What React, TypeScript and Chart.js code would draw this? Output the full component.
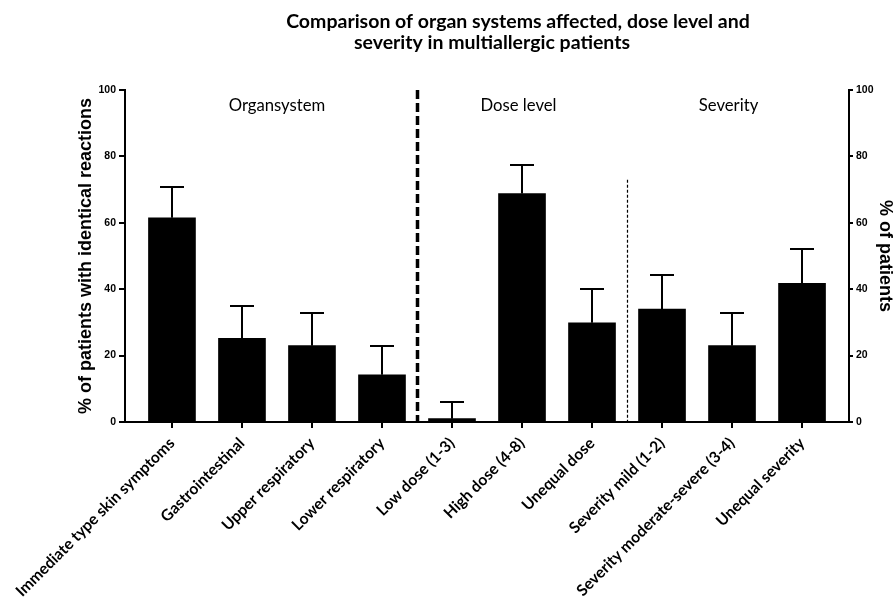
import React, { useEffect, useRef } from 'react';
import { Chart, registerables } from 'chart.js';

Chart.register(...registerables);

const categories = [
  'Immediate type skin symptoms',
  'Gastrointestinal',
  'Upper respiratory',
  'Lower respiratory',
  'Low dose (1-3)',
  'High dose (4-8)',
  'Unequal dose',
  'Severity mild (1-2)',
  'Severity moderate-severe (3-4)',
  'Unequal severity',
];
const values = [61.5, 25.2, 23.0, 14.2, 1.0, 68.8, 29.9, 34.0, 23.0, 41.8];
const errorTops = [70.9, 35.0, 32.7, 23.0, 6.0, 77.4, 40.1, 44.3, 32.7, 52.0];
const yTicks = [0, 20, 40, 60, 80, 100];
const groupLabels = ['Organsystem', 'Dose level', 'Severity'];
const groupCenters = [1.5, 4.95, 7.95];
const separatorPositions = [3.5, 6.5];
const separatorTops = [100, 73];
const titleLines = [
  'Comparison of organ systems affected, dose level and',
  'severity in multiallergic patients',
];
const leftAxisTitle = '% of patients with identical reactions';
const rightAxisTitle = '% of patients';

const overlayPlugin = {
  id: 'overlay',
  afterDatasetsDraw(chart: any) {
    const { ctx } = chart;
    const xs = chart.scales.x;
    const ys = chart.scales.y;
    ctx.save();
    // error bars
    ctx.strokeStyle = '#000';
    ctx.lineWidth = 2;
    ctx.setLineDash([]);
    values.forEach((v, i) => {
      const x = Math.round(xs.getPixelForValue(i));
      const y0 = ys.getPixelForValue(v);
      const y1 = Math.round(ys.getPixelForValue(errorTops[i]));
      ctx.beginPath();
      ctx.moveTo(x, y0);
      ctx.lineTo(x, y1);
      ctx.moveTo(x - 12, y1);
      ctx.lineTo(x + 12, y1);
      ctx.stroke();
    });
    // separators
    separatorPositions.forEach((p, i) => {
      const x = Math.round(xs.getPixelForValue(p));
      ctx.beginPath();
      if (i === 0) {
        ctx.lineWidth = 3.5;
        ctx.setLineDash([9, 4]);
      } else {
        ctx.lineWidth = 1.2;
        ctx.setLineDash([3, 2]);
      }
      ctx.moveTo(x + 0.5, ys.getPixelForValue(separatorTops[i]));
      ctx.lineTo(x + 0.5, ys.getPixelForValue(0));
      ctx.stroke();
    });
    ctx.setLineDash([]);
    // group labels
    ctx.fillStyle = '#000';
    ctx.font = '16.7px Lato';
    ctx.textAlign = 'center';
    ctx.textBaseline = 'middle';
    groupLabels.forEach((g, i) => {
      ctx.fillText(g, xs.getPixelForValue(groupCenters[i]), ys.getPixelForValue(95.3));
    });
    // title
    ctx.font = 'bold 19.5px Lato';
    ctx.textBaseline = 'alphabetic';
    ctx.fillText(titleLines[0], 518, 28);
    ctx.fillText(titleLines[1], 492, 49);
    ctx.restore();
  },
};

export default function App() {
  const ref = useRef<HTMLCanvasElement | null>(null);
  useEffect(() => {
    if (!ref.current) return;
    const tickFont = { family: 'Liberation Sans', weight: 'bold' as const, size: 10.5 };
    const titleFont = { family: 'Liberation Sans', weight: 'bold' as const, size: 18 };
    const chart = new Chart(ref.current, {
      type: 'bar',
      data: {
        datasets: [
          {
            data: values.map((v, i) => ({ x: i, y: v })),
            backgroundColor: '#000',
            borderWidth: 0,
            barThickness: 47,
          },
        ],
      },
      options: {
        animation: false,
        responsive: false,
        devicePixelRatio: 1,
        layout: { padding: { top: 90, left: 0, right: 0, bottom: 0 } },
        plugins: { legend: { display: false }, tooltip: { enabled: false }, title: { display: false } },
        scales: {
          x: {
            type: 'linear',
            position: 'bottom',
            offset: false,
            min: -0.671,
            max: 9.671,
            afterBuildTicks: (s: any) => {
              s.ticks = categories.map((_, i) => ({ value: i }));
            },
            afterFit: (s: any) => {
              s.height = 180;
            },
            grid: { offset: false, drawOnChartArea: false, drawTicks: true, tickLength: 6, color: '#000', lineWidth: 2 },
            border: { display: true, color: '#000', width: 2 },
            ticks: {
              autoSkip: false,
              maxRotation: 45,
              minRotation: 45,
              padding: 6,
              color: '#000',
              font: { family: 'Lato', weight: 'bold', size: 15.7 },
              callback: (_v: any, i: number) => categories[i],
            },
          },
          y: {
            type: 'linear',
            position: 'left',
            min: 0,
            max: 100,
            afterBuildTicks: (s: any) => {
              s.ticks = yTicks.map((t) => ({ value: t }));
            },
            afterFit: (s: any) => {
              s.width = 125;
            },
            grid: { drawOnChartArea: false, drawTicks: true, tickLength: 6, color: '#000', lineWidth: 2 },
            border: { display: true, color: '#000', width: 2 },
            ticks: { color: '#000', font: tickFont, padding: 3 },
            title: { display: true, text: leftAxisTitle, color: '#000', font: titleFont, padding: { top: 75, bottom: 0 } },
          },
          y2: {
            type: 'linear',
            position: 'right',
            min: 0,
            max: 100,
            afterBuildTicks: (s: any) => {
              s.ticks = yTicks.map((t) => ({ value: t }));
            },
            afterFit: (s: any) => {
              s.width = 47;
            },
            grid: { drawOnChartArea: false, drawTicks: true, tickLength: 4, color: '#000', lineWidth: 2 },
            border: { display: true, color: '#000', width: 2 },
            ticks: { color: '#000', font: tickFont, padding: 3 },
            title: { display: true, text: rightAxisTitle, color: '#000', font: titleFont, padding: { top: 0, bottom: 0 } },
          },
        },
      } as any,
      plugins: [overlayPlugin],
    });
    return () => chart.destroy();
  }, []);
  return (
    <div style={{ position: 'absolute', left: 0, top: 0, width: 896, height: 602 }}>
      <canvas ref={ref} width={896} height={602} style={{ display: 'block', width: 896, height: 602 }} />
    </div>
  );
}
